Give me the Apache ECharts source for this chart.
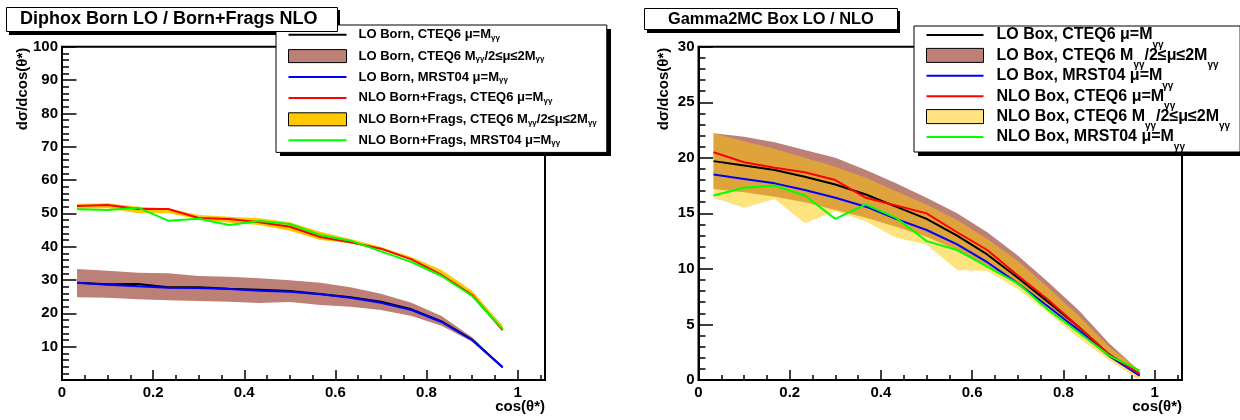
<!DOCTYPE html>
<html>
<head>
<meta charset="utf-8">
<script src="https://cdn.jsdelivr.net/npm/echarts@6/dist/echarts.min.js"></script>
<style>
html,body{margin:0;padding:0;background:#fff;}
#c{width:1240px;height:420px;}
</style>
</head>
<body>
<div id="c"></div>
<script>
// ---- data (bin centres of cos(theta*)) ----
const cosTheta = [0.033, 0.1, 0.167, 0.233, 0.3, 0.367, 0.433, 0.5, 0.567, 0.633, 0.7, 0.767, 0.833, 0.9, 0.967];

// Left panel: Diphox Born LO / Born+Frags NLO
const diphoxLoCteq6   = [29.2, 28.7, 28.8, 27.8, 27.8, 27.4, 27.1, 26.7, 25.8, 24.8, 23.5, 21.2, 17.6, 12.1, 3.8];
const diphoxLoBandLow = [24.8, 24.7, 24.2, 23.9, 23.7, 23.5, 23.1, 23.4, 22.5, 22.0, 21.0, 19.2, 16.3, 11.5, 3.5];
const diphoxLoBandHigh= [33.3, 32.8, 32.2, 32.0, 31.2, 31.0, 30.5, 29.9, 29.2, 27.8, 25.9, 23.2, 19.2, 12.8, 4.1];
const diphoxLoMrst04  = [29.2, 28.6, 28.1, 27.7, 27.6, 27.3, 26.8, 26.5, 25.7, 24.7, 23.2, 21.0, 17.4, 12.0, 3.8];
const diphoxNloCteq6  = [52.2, 52.5, 51.3, 51.3, 48.6, 48.3, 47.3, 46.0, 42.9, 41.3, 39.4, 36.2, 31.5, 25.5, 15.0];
const diphoxNloBandLow= [51.3, 51.5, 50.0, 50.0, 48.2, 47.2, 46.5, 44.8, 42.0, 41.0, 39.0, 35.9, 31.3, 25.3, 14.8];
const diphoxNloBandHigh=[52.8, 53.0, 52.0, 51.5, 49.5, 49.0, 48.5, 47.3, 44.5, 42.3, 39.9, 36.9, 33.0, 26.8, 16.3];
const diphoxNloMrst04 = [51.2, 51.0, 51.7, 47.8, 48.4, 46.5, 47.7, 46.8, 43.5, 41.8, 38.6, 35.4, 31.2, 25.2, 15.3];

// Right panel: Gamma2MC Box LO / NLO
const boxLoCteq6   = [19.7, 19.3, 18.9, 18.3, 17.6, 16.7, 15.6, 14.5, 13.0, 11.3, 9.2, 7.0, 4.8, 2.3, 0.5];
const boxLoBandLow = [17.2, 16.9, 16.5, 16.0, 15.3, 14.6, 13.8, 12.9, 11.7, 10.3, 8.6, 6.5, 4.3, 2.0, 0.3];
const boxLoBandHigh= [22.2, 21.9, 21.4, 20.7, 20.0, 18.9, 17.7, 16.4, 15.0, 13.3, 11.2, 8.8, 6.3, 3.3, 0.8];
const boxLoMrst04  = [18.5, 18.1, 17.7, 17.1, 16.4, 15.6, 14.5, 13.5, 12.2, 10.6, 8.7, 6.6, 4.5, 2.2, 0.4];
const boxNloCteq6  = [20.5, 19.6, 19.1, 18.7, 18.0, 16.4, 15.7, 15.0, 13.3, 11.7, 9.4, 7.2, 4.8, 2.3, 0.55];
const boxNloBandLow= [16.4, 15.5, 16.3, 14.1, 15.2, 14.3, 12.8, 12.2, 9.9, 9.8, 8.2, 6.0, 3.8, 1.8, 0.0];
const boxNloBandHigh=[22.2, 21.5, 20.8, 20.0, 19.2, 18.2, 17.0, 15.8, 14.4, 12.7, 10.7, 8.3, 5.8, 3.0, 0.9];
const boxNloMrst04 = [16.6, 17.3, 17.5, 16.6, 14.5, 15.8, 14.6, 12.5, 11.7, 10.2, 8.7, 6.3, 4.3, 2.2, 0.85];

// ---- labels ----
const titleLeft = 'Diphox Born LO / Born+Frags NLO';
const titleRight = 'Gamma2MC Box LO / NLO';
const xTitle = 'cos(θ*)';
const yTitle = 'dσ/dcos(θ*)';
const namesLeft = [
  'LO Born, CTEQ6 μ=Mγγ',
  'LO Born, CTEQ6 Mγγ/2≤μ≤2Mγγ',
  'LO Born, MRST04 μ=Mγγ',
  'NLO Born+Frags, CTEQ6 μ=Mγγ',
  'NLO Born+Frags, CTEQ6 Mγγ/2≤μ≤2Mγγ',
  'NLO Born+Frags, MRST04 μ=Mγγ'
];
const namesRight = [
  'LO Box, CTEQ6 μ=Mγγ',
  'LO Box, CTEQ6 Mγγ/2≤μ≤2Mγγ',
  'LO Box, MRST04 μ=Mγγ',
  'NLO Box, CTEQ6 μ=Mγγ',
  'NLO Box, CTEQ6 Mγγ/2≤μ≤2Mγγ',
  'NLO Box, MRST04 μ=Mγγ'
];

// ---- styling ----
const FONT = '"Liberation Sans", Arial, Helvetica, sans-serif';
const BROWN = '#bc8077';
const GOLD = '#ffc800';
const PALE = 'rgba(255,200,0,0.5)';
const PALE_ICON = '#ffe382';
const LINE_ICON = 'path://M0,0H58V2H0Z';

function pts(ys) { return cosTheta.map((x, i) => [x, ys[i]]); }

function bandSeries(name, lo, hi, color, gi, fill) {
  const data = cosTheta.map((x, i) => [x, lo[i], hi[i]]);
  return {
    name: name, type: 'custom', xAxisIndex: gi, yAxisIndex: gi, data: data, silent: true,
    color: color, itemStyle: { color: color }, encode: { x: 0, y: [1, 2] },
    renderItem: function (params, api) {
      if (params.dataIndex !== 0) return null;
      const upper = data.map(d => api.coord([d[0], d[2]]));
      const lower = data.map(d => api.coord([d[0], d[1]])).reverse();
      return { type: 'polygon', shape: { points: upper.concat(lower) }, style: { fill: fill || color, stroke: null } };
    }
  };
}
function lineSeries(name, ys, color, gi) {
  return { name: name, type: 'line', xAxisIndex: gi, yAxisIndex: gi, data: pts(ys), symbol: 'none',
    silent: true, color: color, lineStyle: { color: color, width: 2 } };
}

const bold = { fontFamily: FONT, fontWeight: 'bold', color: '#000' };

function xAxisCfg(gi) {
  return {
    type: 'value', gridIndex: gi, min: 0, max: 1.06, interval: 0.2,
    name: xTitle, nameLocation: 'end', nameGap: 0, nameMoveOverlap: false,
    nameTextStyle: Object.assign({ fontSize: 15, align: 'right', verticalAlign: 'top', padding: [19, 0, 0, 0] }, bold),
    axisLine: { show: true, onZero: false, lineStyle: { color: '#000', width: 2 } },
    axisTick: { show: true, inside: true, length: 10, lineStyle: { color: '#000', width: 1.5 } },
    minorTick: { show: true, splitNumber: 4, length: 5, lineStyle: { color: '#000', width: 1.5 } },
    axisLabel: Object.assign({ fontSize: 15, margin: 5, showMaxLabel: false }, bold),
    splitLine: { show: false }, minorSplitLine: { show: false }
  };
}
function yAxisCfg(gi, max, interval, showMin, namePad) {
  return {
    type: 'value', gridIndex: gi, min: 0, max: max, interval: interval,
    name: yTitle, nameLocation: 'end', nameGap: -1, nameRotate: 90, nameMoveOverlap: false,
    nameTextStyle: Object.assign({ fontSize: 15, align: 'right', verticalAlign: 'bottom', padding: [0, 0, namePad, 0] }, bold),
    axisLine: { show: true, onZero: false, lineStyle: { color: '#000', width: 2 } },
    axisTick: { show: true, inside: true, length: 14.5, lineStyle: { color: '#000', width: 1.5 } },
    minorTick: { show: true, splitNumber: 5, length: 7, lineStyle: { color: '#000', width: 1.5 } },
    axisLabel: Object.assign({ fontSize: 15, margin: 4, showMinLabel: showMin }, bold),
    splitLine: { show: false }, minorSplitLine: { show: false }
  };
}
function legendData(names, colors, bandIdx, bandColor) {
  return names.map((n, i) => i === bandIdx[0] || i === bandIdx[1]
    ? { name: n, icon: 'rect', itemStyle: { color: bandColor[i === bandIdx[0] ? 0 : 1], borderColor: '#000', borderWidth: 1 } }
    : { name: n, icon: LINE_ICON, itemStyle: { color: colors[i], borderWidth: 0 } });
}
const lineColors = ['#000000', null, '#0000ff', '#ff0000', null, '#00ff00'];

const gridBase = { show: true, borderColor: '#000', borderWidth: 2, backgroundColor: '#fff', containLabel: false, outerBoundsMode: 'none' };
const boxBase = { backgroundColor: '#fff', borderColor: '#000', borderWidth: 1 };

// solid drop shadows of the ROOT-style boxes (decoration only)
function shadowRect(x, y, w, h) {
  return { type: 'rect', z: 0, silent: true, shape: { x: x, y: y, width: w, height: h }, style: { fill: '#000' } };
}

const option = {
  animation: false,
  backgroundColor: '#fff',
  graphic: [
    shadowRect(9, 10, 331, 25),
    shadowRect(647, 11, 253, 22),
    shadowRect(280, 29, 331, 127),
    shadowRect(918, 30, 330, 126)
  ],
  title: [
    Object.assign({ text: titleLeft, left: 6, top: 7, padding: [2, 20, 2, 14],
      textStyle: Object.assign({ fontSize: 18, lineHeight: 21 }, bold) }, boxBase),
    Object.assign({ text: titleRight, left: 644, top: 8, padding: [2, 24, 2, 24],
      textStyle: Object.assign({ fontSize: 16.4, lineHeight: 18 }, bold) }, boxBase)
  ],
  grid: [
    Object.assign({ left: 62, top: 46.7, width: 483, height: 333.3 }, gridBase),
    Object.assign({ left: 698.5, top: 46.7, width: 483.5, height: 333.3 }, gridBase)
  ],
  xAxis: [xAxisCfg(0), xAxisCfg(1)],
  yAxis: [yAxisCfg(0, 100, 10, false, 32), yAxisCfg(1, 30, 5, true, 27)],
  legend: [
    Object.assign({ orient: 'vertical', left: 276, top: 25, padding: [3.2, 10, 5.2, 12],
      itemWidth: 58, itemHeight: 13, itemGap: 7.4, selectedMode: false,
      formatter: n => n.replace(/γγ/g, '{s|γγ}'),
      textStyle: Object.assign({ fontSize: 13, padding: [0, 0, 0, 7],
        rich: { s: Object.assign({ fontSize: 8, padding: [6, 0, 0, 0] }, bold) } }, bold),
      data: legendData(namesLeft, lineColors, [1, 4], [BROWN, GOLD]) }, boxBase),
    Object.assign({ orient: 'vertical', left: 914, top: 26, padding: [1, 10, 0, 12],
      itemWidth: 57, itemHeight: 14, itemGap: -2.6, selectedMode: false,
      formatter: n => n.replace(/γγ/g, '{s|γγ}'),
      textStyle: Object.assign({ fontSize: 16, padding: [0, 0, 0, 8],
        rich: { s: Object.assign({ fontSize: 10, padding: [20, 0, 0, 0] }, bold) } }, bold),
      data: legendData(namesRight, lineColors, [1, 4], [BROWN, PALE_ICON]) }, boxBase)
  ],
  series: [
    bandSeries(namesLeft[1], diphoxLoBandLow, diphoxLoBandHigh, BROWN, 0),
    bandSeries(namesLeft[4], diphoxNloBandLow, diphoxNloBandHigh, GOLD, 0),
    lineSeries(namesLeft[0], diphoxLoCteq6, '#000000', 0),
    lineSeries(namesLeft[2], diphoxLoMrst04, '#0000ff', 0),
    lineSeries(namesLeft[3], diphoxNloCteq6, '#ff0000', 0),
    lineSeries(namesLeft[5], diphoxNloMrst04, '#00ff00', 0),
    bandSeries(namesRight[1], boxLoBandLow, boxLoBandHigh, BROWN, 1),
    bandSeries(namesRight[4], boxNloBandLow, boxNloBandHigh, PALE_ICON, 1, PALE),
    lineSeries(namesRight[0], boxLoCteq6, '#000000', 1),
    lineSeries(namesRight[2], boxLoMrst04, '#0000ff', 1),
    lineSeries(namesRight[3], boxNloCteq6, '#ff0000', 1),
    lineSeries(namesRight[5], boxNloMrst04, '#00ff00', 1)
  ]
};

const chart = echarts.init(document.getElementById('c'), null, { renderer: 'canvas' });
chart.setOption(option);
</script>
</body>
</html>
